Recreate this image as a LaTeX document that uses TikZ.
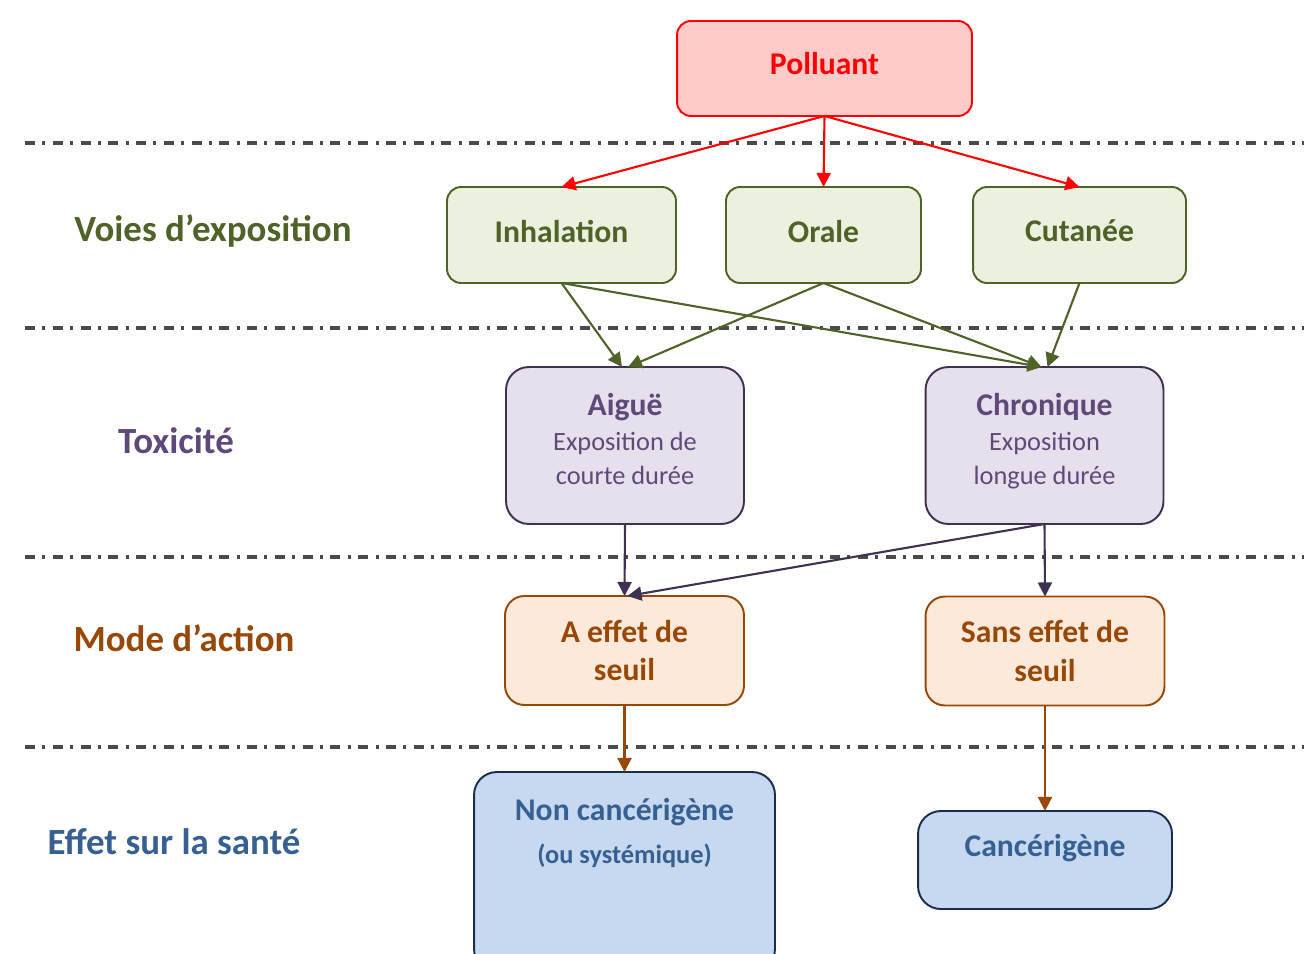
\documentclass[tikz,border=0pt]{standalone}
\usepackage{fontspec}
\setmainfont{Carlito}
\usetikzlibrary{arrows.meta}

\definecolor{pollred}{HTML}{FF0000}
\definecolor{pollfill}{HTML}{FFCACA}
\definecolor{voiegreen}{HTML}{4F6228}
\definecolor{voiefill}{HTML}{EBF1DE}
\definecolor{toxline}{HTML}{3F3151}
\definecolor{toxtext}{HTML}{5F497A}
\definecolor{toxfill}{HTML}{E5E0EC}
\definecolor{modetext}{HTML}{984806}
\definecolor{modefill}{HTML}{FDE9D9}
\definecolor{effline}{HTML}{1B2D4F}
\definecolor{efftext}{HTML}{376092}
\definecolor{efffill}{HTML}{C6D9F1}
\definecolor{sepgray}{HTML}{4A4A4A}

\tikzset{
  box/.style={draw, rectangle, line width=1.1pt, inner sep=0pt, outer sep=0pt, align=center},
  pollbox/.style={box, draw=pollred, fill=pollfill, text=pollred, rounded corners=8pt,
    text depth=5.5pt, font=\fontsize{18}{22}\selectfont\bfseries},
  voiebox/.style={box, draw=voiegreen, fill=voiefill, text=voiegreen, rounded corners=8pt,
    minimum height=1.92cm, text depth=4.5pt, font=\fontsize{18}{22}\selectfont\bfseries},
  toxbox/.style={box, draw=toxline, fill=toxfill, text=toxtext, rounded corners=13pt,
    minimum width=4.76cm, minimum height=3.14cm, text depth=7.5pt,
    font=\fontsize{15}{19}\selectfont},
  modebox/.style={box, draw=modetext, fill=modefill, text=modetext, rounded corners=11pt,
    minimum width=4.78cm, minimum height=2.18cm, font=\fontsize{18}{22}\selectfont\bfseries},
  effetbox/.style={box, draw=effline, fill=efffill, rounded corners=13pt},
  efflabel/.style={text=efftext, align=center, font=\fontsize{18}{22}\selectfont\bfseries},
  leftlabel/.style={font=\fontsize{21}{25}\selectfont\bfseries},
  sepline/.style={draw=sepgray, line width=1.9pt,
    dash pattern=on 5.7pt off 4.2pt on 1.7pt off 4.2pt},
  pollarrow/.style={draw=pollred, line width=1.2pt, -{Triangle[length=8pt,width=8pt]}},
  voiearrow/.style={draw=voiegreen, line width=1.2pt, -{Triangle[length=8pt,width=8pt]}},
  toxarrow/.style={draw=toxline, line width=1.2pt, -{Triangle[length=8pt,width=8pt]}},
  modearrow/.style={draw=modetext, line width=1.2pt, -{Triangle[length=8pt,width=8pt]}},
}

\begin{document}
\begin{tikzpicture}[x=0.02cm, y=-0.02cm]

\useasboundingbox (0,0) rectangle (1304,953);

% -------- Separators -----------
\draw[sepline] (25,143) -- (1304,143);
\draw[sepline] (25,328) -- (1304,328);
\draw[sepline] (25,557) -- (1304,557);
\draw[sepline] (25,747) -- (1304,747);

% -------- Row titles -----------
\node[leftlabel, text=voiegreen] (tvoies) at (213,231) {Voies d’exposition};
\node[leftlabel, text=toxtext]   (ttox)   at (176,441) {Toxicité};
\node[leftlabel, text=modetext]  (tmode)  at (184,638) {Mode d’action};
\node[leftlabel, text=efftext]   (teffet) at (174,842) {Effet sur la santé};

% -------- Boxes -----------
\node[pollbox, minimum width=5.9cm, minimum height=1.9cm] (poll) at (824.5,68.5) {Polluant};

\node[voiebox, minimum width=4.58cm] (inhal) at (561.5,235) {Inhalation};
\node[voiebox, minimum width=3.9cm]  (orale) at (823.5,235) {Orale};
\node[voiebox, minimum width=4.26cm] (cutan) at (1079.5,235) {Cutanée};

\node[toxbox] (aigue) at (625,445.5)
  {{\fontsize{18}{22}\selectfont\bfseries Aiguë}\\[1pt] Exposition de\\ courte durée};
\node[toxbox] (chron) at (1044.5,445.5)
  {{\fontsize{18}{22}\selectfont\bfseries Chronique}\\[1pt] Exposition\\ longue durée};

\node[modebox] (aseuil) at (624.5,650.5) {A effet de\\ seuil};
\node[modebox] (sseuil) at (1045,651) {Sans effet de\\ seuil};

\node[effetbox, minimum width=6.02cm, minimum height=4cm] (noncanc) at (624.5,872) {};
\node[efflabel] (noncanctxt) at (624.5,812) {Non cancérigène};
\node[efflabel, font=\fontsize{15}{19}\selectfont\bfseries] (systtxt) at (624.5,856) {(ou systémique)};
\node[effetbox, minimum width=5.08cm, minimum height=1.96cm] (canc) at (1045,860) {};
\node[efflabel] (canctxt) at (1045,848) {Cancérigène};

% -------- Arrows -----------
\draw[pollarrow] (poll.south) -- (inhal.north);
\draw[pollarrow] (poll.south) -- (orale.north);
\draw[pollarrow] (poll.south) -- (cutan.north);

\draw[voiearrow] (inhal.south) -- ([xshift=-0.06cm]aigue.north);
\draw[voiearrow] (orale.south) -- ([xshift=0.06cm]aigue.north);
\draw[voiearrow] (inhal.south) -- ([xshift=-0.06cm]chron.north);
\draw[voiearrow] (orale.south) -- ([xshift=-0.06cm]chron.north);
\draw[voiearrow] (cutan.south) -- ([xshift=0.06cm]chron.north);

\draw[toxarrow] (aigue.south) -- (aseuil.north);
\draw[toxarrow] (chron.south) -- ([xshift=0.06cm]aseuil.north);
\draw[toxarrow] (chron.south) -- (sseuil.north);

\draw[modearrow] (aseuil.south) -- (noncanc.north);
\draw[modearrow] (sseuil.south) -- (canc.north);

\end{tikzpicture}
\end{document}
